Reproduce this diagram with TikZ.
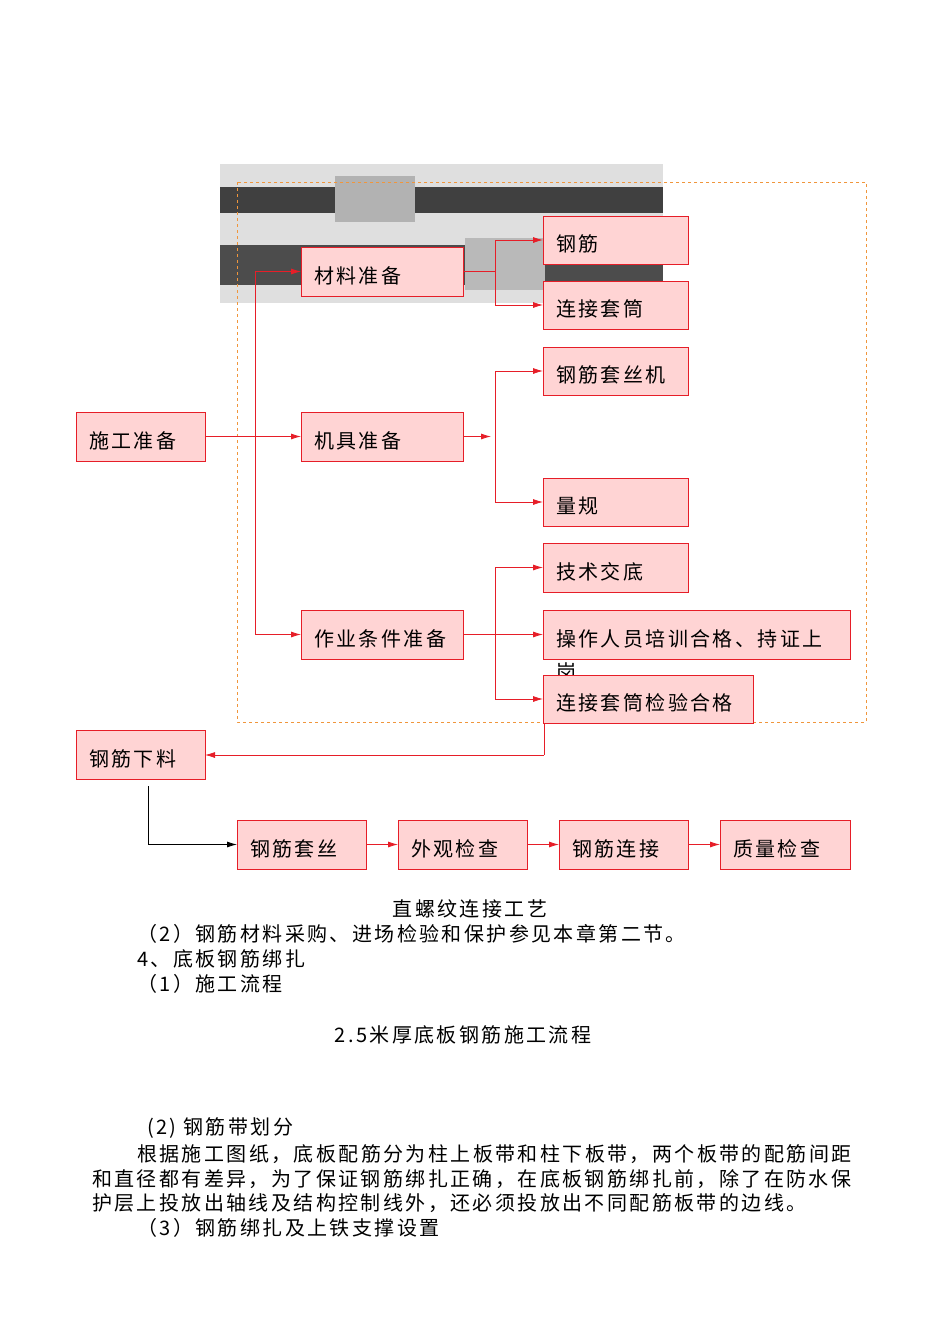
\documentclass[tikz,border=0pt]{standalone}
\usepackage{fontspec}
\newfontfamily\cjk[LetterSpace=12]{Noto Sans CJK SC}
\usetikzlibrary{arrows.meta}
\definecolor{boxfill}{RGB}{255,212,212}
\definecolor{boxline}{RGB}{230,30,40}
\definecolor{dashor}{RGB}{240,150,60}
\begin{document}
\begin{tikzpicture}[x=1pt,y=-1pt,
  box/.style={draw=boxline,fill=boxfill,line width=0.9pt},
  lab/.style={anchor=west,font=\cjk\fontsize{20}{20}\selectfont,inner sep=0pt},
  txt/.style={anchor=west,font=\cjk\fontsize{20}{20}\selectfont,inner sep=0pt},
  con/.style={draw=boxline,line width=0.8pt},
  arr/.style={con,-{Latex[length=10pt,width=6pt]}}]
\useasboundingbox (0,0) rectangle (950,1344);
% photo
\fill[gray!25] (220,164) rectangle (663,303);
\fill[black!75] (220,187) rectangle (663,213);
\fill[black!70] (220,245) rectangle (663,285);
\fill[gray!60] (335,176) rectangle (415,222);
\fill[gray!55] (465,238) rectangle (545,290);
\draw[dashor,dashed,line width=0.8pt] (237,182) rectangle (866,722);
\newcommand{\bx}[6]{\draw[box] (#2,#3) rectangle (#4,#5); \node[lab] (#1) at ({#2+13},{(#3+#5)/2+4}) {#6};
  \coordinate (#1W) at (#2,{(#3+#5)/2}); \coordinate (#1E) at (#4,{(#3+#5)/2});}
\bx{sg}{76}{412}{205}{461}{施工准备}
\bx{cl}{301}{247}{463}{296}{材料准备}
\bx{jj}{301}{412}{463}{461}{机具准备}
\bx{zy}{301}{610}{463}{659}{作业条件准备}
\bx{gj}{543}{216}{688}{264}{钢筋}
\bx{lj}{543}{281}{688}{329}{连接套筒}
\bx{ts}{543}{347}{688}{395}{钢筋套丝机}
\bx{lg}{543}{478}{688}{526}{量规}
\bx{js}{543}{543}{688}{592}{技术交底}
\bx{cz}{543}{610}{850}{659}{操作人员培训合格、持证上}
\node[lab] (gang) at (556,672) {岗};
\bx{jy}{543}{675}{753}{723}{连接套筒检验合格}
\bx{xl}{76}{730}{205}{779}{钢筋下料}
\bx{a1}{237}{820}{366}{869}{钢筋套丝}
\bx{a2}{398}{820}{527}{869}{外观检查}
\bx{a3}{559}{820}{688}{869}{钢筋连接}
\bx{a4}{720}{820}{850}{869}{质量检查}
% connectors
\coordinate (v1) at (255,0);
\coordinate (v2) at (495,0);
\draw[arr] (sgE) -- (jjW);
\draw[con] (sgE -| v1) -- (clW -| v1);
\draw[arr] (clW -| v1) -- (clW);
\draw[con] (sgE -| v1) -- (zyW -| v1);
\draw[arr] (zyW -| v1) -- (zyW);
\draw[con] (clE) -- (clE -| v2);
\draw[con] (gjW -| v2) -- (ljW -| v2);
\draw[arr] (gjW -| v2) -- (gjW);
\draw[arr] (ljW -| v2) -- (ljW);
\draw[arr] (jjE) -- ++(28,0);
\draw[con] (tsW -| v2) -- (lgW -| v2);
\draw[arr] (tsW -| v2) -- (tsW);
\draw[arr] (lgW -| v2) -- (lgW);
\draw[arr] (zyE) -- (czW);
\draw[con] (jsW -| v2) -- (jyW -| v2);
\draw[arr] (jsW -| v2) -- (jsW);
\draw[arr] (jyW -| v2) -- (jyW);
\coordinate (d1) at (544,755);
\draw[con] (544,723) -- (d1);
\draw[arr] (d1) -- (d1 -| xlE);
\coordinate (b1) at (148,786);
\draw[line width=0.8pt] (b1) -- (b1 |- a1W);
\draw[line width=0.8pt,-{Latex[length=10pt,width=6pt]}] (b1 |- a1W) -- (a1W);
\draw[arr] (a1E) -- (a2W);
\draw[arr] (a2E) -- (a3W);
\draw[arr] (a3E) -- (a4W);
% text
\node[txt,anchor=center] (c1) at (470,909) {直螺纹连接工艺};
\node[txt] (t1) at (137,934) {（2）钢筋材料采购、进场检验和保护参见本章第二节。};
\node[txt] (t2) at (137,959) {4、底板钢筋绑扎};
\node[txt] (t3) at (137,984) {（1）施工流程};
\node[txt,anchor=center] (t4) at (463,1035) {2.5米厚底板钢筋施工流程};
\node[txt] (t5) at (147,1128) {(2) 钢筋带划分};
\node[txt] (t6) at (137,1154) {根据施工图纸，底板配筋分为柱上板带和柱下板带，两个板带的配筋间距};
\node[txt] (t7) at (92,1179) {和直径都有差异，为了保证钢筋绑扎正确，在底板钢筋绑扎前，除了在防水保};
\node[txt] (t8) at (92,1203) {护层上投放出轴线及结构控制线外，还必须投放出不同配筋板带的边线。};
\node[txt] (t9) at (137,1228) {（3）钢筋绑扎及上铁支撑设置};
\end{tikzpicture}
\end{document}
